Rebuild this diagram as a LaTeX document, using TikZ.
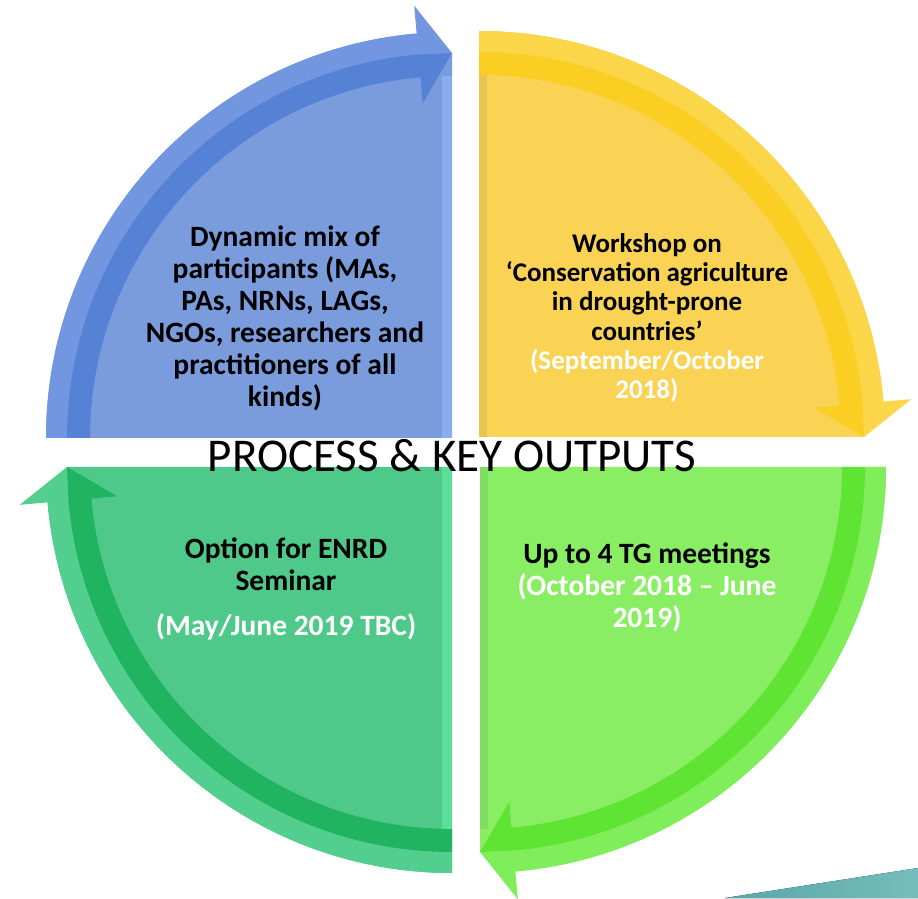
\documentclass[tikz,border=0pt]{standalone}
\usepackage{fontspec}
\setmainfont{Carlito}
\definecolor{bluebody}{RGB}{123,156,220}
\definecolor{bluelight}{RGB}{114,151,224}
\definecolor{bluedark}{RGB}{86,130,214}
\definecolor{blueedge}{RGB}{140,178,245}
\definecolor{yellowbody}{RGB}{250,211,84}
\definecolor{yellowlight}{RGB}{251,214,72}
\definecolor{yellowdark}{RGB}{250,206,34}
\definecolor{yellowedge}{RGB}{228,190,80}
\definecolor{greenbody}{RGB}{78,201,138}
\definecolor{greenlight}{RGB}{82,206,142}
\definecolor{greendark}{RGB}{32,180,96}
\definecolor{greenedge}{RGB}{96,226,158}
\definecolor{limebody}{RGB}{138,238,100}
\definecolor{limelight}{RGB}{128,238,90}
\definecolor{limedark}{RGB}{96,228,52}
\definecolor{limeedge}{RGB}{120,210,92}
\definecolor{tealleft}{RGB}{88,168,168}
\definecolor{tealright}{RGB}{118,188,188}
\tikzset{
  bodytext/.style={font=\bfseries\fontsize{29.5}{32}\selectfont, align=center, inner sep=0pt},
  datetext/.style={bodytext, text=white},
  titletext/.style={font=\fontsize{47}{50}\selectfont, inner sep=0pt}
}
\begin{document}
\begin{tikzpicture}[x=1pt,y=1pt]
\useasboundingbox (0,0) rectangle (918,898);
\def \innerradius{362}
\def \midradius{385}
\def \outerradius{406}
\def \headin{336}
\def \headout{434}
% corner x, corner y, start angle, body, light half, dark half
\def \quadrant#1#2#3#4#5#6{%
\begin{scope}[shift={(#1,#2)}]
\pgfmathsetmacro\baseang{#3-85}
\pgfmathsetmacro\tipang{#3-90}
\fill[#4] (0,0) -- (#3:\outerradius) arc[start angle=#3, end angle=\baseang, radius=\outerradius] -- (\tipang:\midradius) -- cycle;
\fill[#5] (#3:\midradius) -- (#3:\outerradius) arc[start angle=#3, end angle=\baseang, radius=\outerradius] -- (\baseang:\headout) -- (\tipang:\midradius) -- (\baseang:\midradius) arc[start angle=\baseang, end angle=#3, radius=\midradius] -- cycle;
\fill[#6] (#3:\innerradius) -- (#3:\midradius) arc[start angle=#3, end angle=\baseang, radius=\midradius] -- (\tipang:\midradius) -- (\baseang:\headin) -- (\baseang:\innerradius) arc[start angle=\baseang, end angle=#3, radius=\innerradius] -- cycle;
\end{scope}}
\quadrant{452}{460}{180}{bluebody}{bluelight}{bluedark}
\quadrant{479}{461}{90}{yellowbody}{yellowlight}{yellowdark}
\quadrant{480}{431}{0}{limebody}{limelight}{limedark}
\quadrant{452}{431}{-90}{greenbody}{greenlight}{greendark}
% bevelled straight edges
\fill[blueedge, opacity=0.8] (442,460) rectangle (452,822);
\fill[yellowedge, opacity=0.7] (479,461) rectangle (487,823);
\fill[greenedge, opacity=0.8] (442,431) rectangle (452,69);
\fill[limeedge, opacity=0.6] (480,431) rectangle (488,69);
% corner sliver
\fill[left color=tealleft, right color=tealright] (725,0) -- (918,30) -- (918,0) -- cycle;
\node[bodytext] (mixlabel) at (285,580) {Dynamic mix of\\participants (MAs,\\PAs, NRNs, LAGs,\\NGOs, researchers and\\practitioners of all\\kinds)};
\node[bodytext, font=\bfseries\fontsize{27}{29.3}\selectfont] (worklabel) at (647,580) {Workshop on\\‘Conservation agriculture\\in drought-prone\\countries’\\\textcolor{white}{(September/October}\\\textcolor{white}{2018)}};
\node[bodytext] (meetlabel) at (647,311) {Up to 4 TG meetings\\\textcolor{white}{(October 2018 – June}\\\textcolor{white}{2019)}};
\node[bodytext] (optlabel) at (286,334) {Option for ENRD\\Seminar};
\node[datetext, anchor=base] (optdate) at (286,263) {(May/June 2019 TBC)};
\node[titletext, anchor=base] (title) at (452,426) {PROCESS \& KEY OUTPUTS};
\end{tikzpicture}
\end{document}
